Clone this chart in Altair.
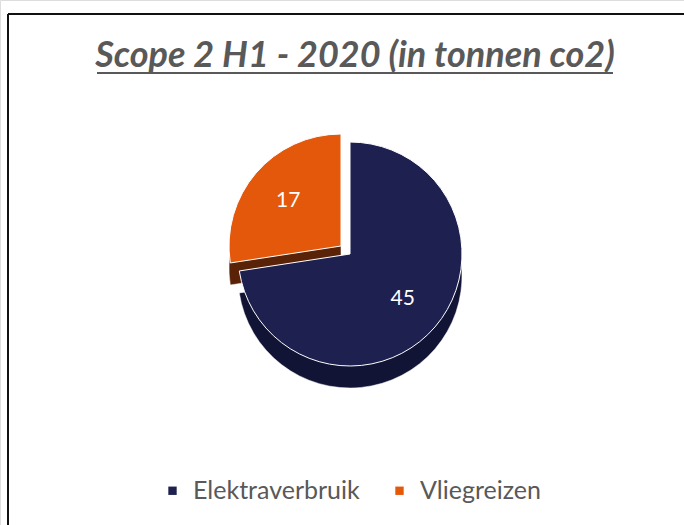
import altair as alt
import pandas as pd

title_text = "Scope 2 H1 - 2020 (in tonnen co2)"
categories = ["Elektraverbruik", "Vliegreizen"]
values = [45, 17]
order_idx = [1, 2]
top_colors = ["#1e2150", "#e4580b"]
side_colors = ["#121436", "#5a2206"]

df = pd.DataFrame({"cat": categories, "val": values, "idx": order_idx})

CX, CY, R, DEPTH = 350, 254, 112, 22
EXPLODE = {"Elektraverbruik": (0, 0), "Vliegreizen": (-9, -8)}

base = (
    alt.Chart(df)
    .transform_joinaggregate(total="sum(val)")
    .transform_window(cum="sum(val)", sort=[alt.SortField("idx")])
    .transform_calculate(
        a0="2*PI*(datum.cum - datum.val)/datum.total",
        a1="2*PI*datum.cum/datum.total",
        amid="PI*(2*datum.cum - datum.val)/datum.total",
    )
)

layers = []
for i, cat in enumerate(categories):
    dx, dy = EXPLODE[cat]
    sub = base.transform_filter(alt.datum.cat == cat)
    layers.append(
        sub.mark_arc(radius=R, stroke="#ffffff", strokeWidth=0.5, color=side_colors[i]).encode(
            theta=alt.Theta("a0:Q", scale=None),
            theta2="a1:Q",
            x=alt.value(CX + dx),
            y=alt.value(CY + dy + DEPTH),
        )
    )
for i, cat in enumerate(categories):
    dx, dy = EXPLODE[cat]
    sub = base.transform_filter(alt.datum.cat == cat)
    layers.append(
        sub.mark_arc(radius=R, stroke="#ffffff", strokeWidth=1).encode(
            theta=alt.Theta("a0:Q", scale=None),
            theta2="a1:Q",
            color=alt.Color(
                "cat:N",
                scale=alt.Scale(domain=categories, range=top_colors),
                legend=alt.Legend(
                    title=None,
                    orient="none",
                    direction="horizontal",
                    legendX=160,
                    legendY=478,
                    symbolType="square",
                    symbolSize=70,
                    symbolStrokeWidth=0,
                    labelFont="Lato",
                    labelFontSize=25,
                    labelColor="#595959",
                    labelLimit=400,
                    columnPadding=27,
                    labelOffset=8,
                ),
            ),
            x=alt.value(CX + dx),
            y=alt.value(CY + dy),
        )
    )
    layers.append(
        sub.mark_text(radius=R * 0.62, color="white", font="Lato", fontSize=21).encode(
            theta=alt.Theta("amid:Q", scale=None),
            text=alt.Text("val:Q"),
            x=alt.value(CX + dx),
            y=alt.value(CY + dy),
        )
    )

title_df = pd.DataFrame({"t": [title_text]})
title = alt.Chart(title_df).mark_text(
    font="Lato", fontSize=36, fontStyle="italic", fontWeight="bold",
    color="#595959", align="center", baseline="alphabetic",
).encode(text="t:N", x=alt.value(355), y=alt.value(67))

underline = alt.Chart(title_df).mark_rule(color="#595959", strokeWidth=2).encode(
    x=alt.value(97), x2=alt.value(613), y=alt.value(73)
)

frame_top = alt.Chart(title_df).mark_rule(color="#111111", strokeWidth=2).encode(
    x=alt.value(8), x2=alt.value(684), y=alt.value(14)
)
frame_left = alt.Chart(title_df).mark_rule(color="#111111", strokeWidth=2).encode(
    x=alt.value(8), y=alt.value(14), y2=alt.value(525)
)

chart = alt.layer(*layers, title, underline, frame_top, frame_left).properties(
    width=684, height=525, padding=0, autosize=alt.AutoSizeParams(type="none"),
).configure_view(stroke=None).configure(background="white")

chart.save("out.html", embed_options={"renderer": "svg", "actions": False})
